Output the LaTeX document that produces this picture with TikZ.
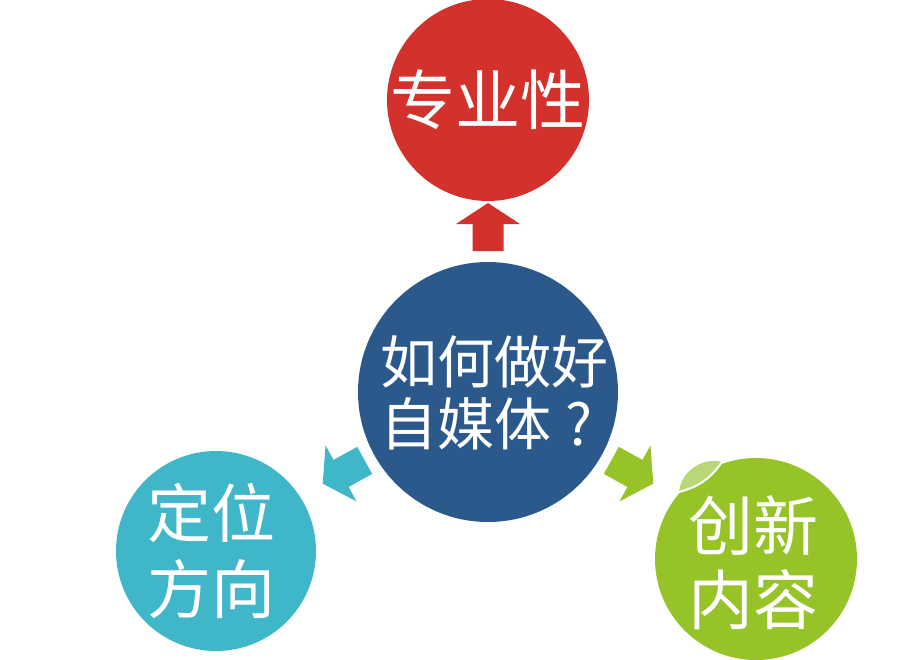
\documentclass[tikz,border=0pt]{standalone}
\usepackage{fontspec}
\newfontfamily\cjk{Noto Sans CJK SC}
\definecolor{cred}{RGB}{211,49,44}
\definecolor{cblue}{RGB}{44,89,140}
\definecolor{cteal}{RGB}{64,183,200}
\definecolor{cgreen}{RGB}{150,196,40}
\definecolor{cleaf}{RGB}{184,216,120}
\begin{document}
\begin{tikzpicture}[x=1pt,y=-1pt,
  ball/.style={circle,inner sep=0pt},
  balltext/.style={inner sep=0pt,align=center,text=white}]
\useasboundingbox (0,0) rectangle (905,659);
\node[ball,fill=cblue,minimum size=260pt] (c) at (488,392) {};
\node[ball,fill=cred,minimum size=202pt] (r) at (488,100) {};
\node[ball,fill=cteal,minimum size=200pt] (t) at (216,551) {};
\node[ball,fill=cgreen,minimum size=202pt] (g) at (756,559) {};
\node[balltext,font=\cjk\fontsize{57}{62}\selectfont] (ct) at (494,393) {如何做好\\自媒体\makebox[1em][c]{?}};
\node[balltext,font=\cjk\fontsize{65}{76}\selectfont] (rt) at (488,100) {专业性};
\node[balltext,font=\cjk\fontsize{64}{76}\selectfont] (tt) at (211.5,551) {定位\\方向};
\node[balltext,font=\cjk\fontsize{65}{74}\selectfont] (gt) at (753,563) {创新\\内容};
% leaf highlight on green ball
\coordinate (la) at (679,492);
\coordinate (lb) at (722,462);
\fill[cleaf] (la) to[bend right=20] (lb) to[bend right=50] (la);
\draw[white,line width=2pt] (la) to[bend right=20] (lb);
% block arrows from centre ball
\foreach \ang/\col in {90/cred,209/cteal,-29/cgreen}{
  \begin{scope}[shift={(c.center)},rotate=\ang]
    \fill[\col] (141,-15.5) -- (168,-15.5) -- (168,-32) -- (189,0) -- (168,32) -- (168,15.5) -- (141,15.5) -- cycle;
  \end{scope}
}
\end{tikzpicture}
\end{document}
